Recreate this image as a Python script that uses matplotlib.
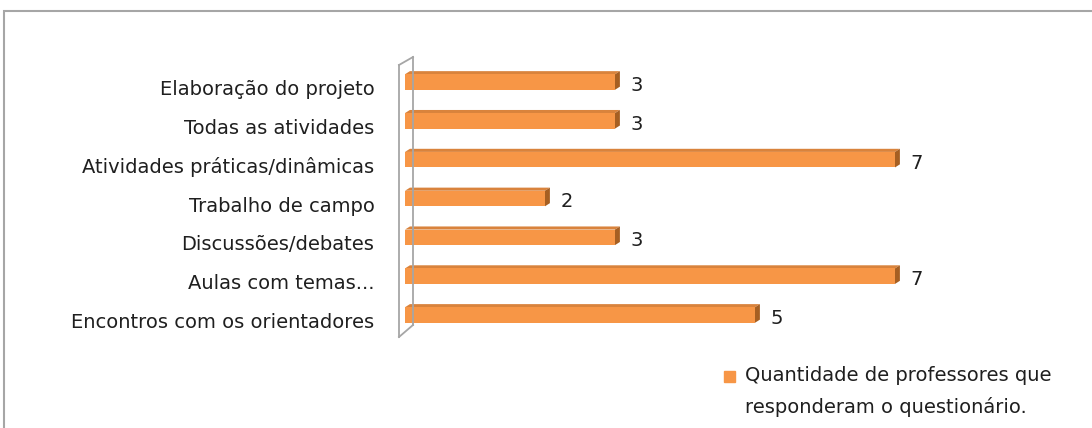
import matplotlib
matplotlib.use("Agg")
from matplotlib import pyplot as plt
from matplotlib.patches import Polygon, Rectangle
from matplotlib.lines import Line2D
from matplotlib.transforms import ScaledTranslation

categories = [
    "Encontros com os orientadores",
    "Aulas com temas...",
    "Discussões/debates",
    "Trabalho de campo",
    "Atividades práticas/dinâmicas",
    "Todas as atividades",
    "Elaboração do projeto",
]
values = [5, 7, 3, 2, 7, 3, 3]
legend_label = "Quantidade de professores que\nresponderam o questionário."

FRONT = "#F79646"
TOP = "#D9833C"
SIDE = "#A65F22"
TEXT = "#1F1F1F"


def main():
    W, H = 1092, 428
    fig = plt.figure(figsize=(W / 100, H / 100), dpi=100)
    plt.rcParams["font.family"] = "DejaVu Sans"

    # outer chart border
    fig.patches.append(Rectangle((4 / W, -0.1), 1.2, 1 - 11 / H + 0.1,
                                 transform=fig.transFigure, fill=False,
                                 edgecolor="#A6A6A6", linewidth=1.5))

    left, right = 405 / W, 1070 / W
    top_px, bot_px = 62.6, 334.4
    ax = fig.add_axes([left, 1 - bot_px / H, right - left, (bot_px - top_px) / H])
    ax.set_xlim(0, 9.5)
    ax.set_ylim(-0.5, len(categories) - 0.5)

    pos = list(range(len(categories)))
    h = 0.40
    ax.barh(pos, values, height=h, color=FRONT, edgecolor="none", zorder=3)

    d, e = 0.07, 0.08
    for y, v in zip(pos, values):
        ax.add_patch(Polygon([(0, y + h / 2), (v, y + h / 2), (v + d, y + h / 2 + e),
                              (d, y + h / 2 + e)], closed=True, color=TOP,
                             linewidth=0, zorder=2))
        ax.add_patch(Polygon([(v, y - h / 2), (v + d, y - h / 2 + e),
                              (v + d, y + h / 2 + e), (v, y + h / 2)], closed=True,
                             color=SIDE, linewidth=0, zorder=4))
        ax.annotate(str(v), (v, y), xytext=(11, -2.5), textcoords="offset points",
                    ha="left", va="center", fontsize=14, color=TEXT)

    ax.set_yticks(pos)
    ax.set_yticklabels(categories, fontsize=14, color=TEXT)
    ax.tick_params(axis="y", length=0, pad=22)
    shift = ScaledTranslation(0, -4 / 72, fig.dpi_scale_trans)
    for lab in ax.get_yticklabels():
        lab.set_transform(lab.get_transform() + shift)
    ax.set_xticks([])
    for s in ax.spines.values():
        s.set_visible(False)

    # 3D wall on the left
    wall = "#A6A6A6"
    for xs, ys in [([399, 399], [65, 337]), ([413, 413], [57, 325]),
                   ([399, 413], [65, 57]), ([399, 413], [337, 325])]:
        fig.add_artist(Line2D([x / W for x in xs], [1 - y / H for y in ys],
                              color=wall, linewidth=1.3))

    # legend
    fig.patches.append(Rectangle((724 / W, 1 - 382 / H), 11 / W, 11 / H,
                                 transform=fig.transFigure, color=FRONT))
    fig.text(745 / W, 1 - 366 / H, legend_label, ha="left", va="top",
             fontsize=14, color=TEXT, linespacing=1.72)

    fig.savefig("out.png", dpi=100)


if __name__ == "__main__":
    main()
